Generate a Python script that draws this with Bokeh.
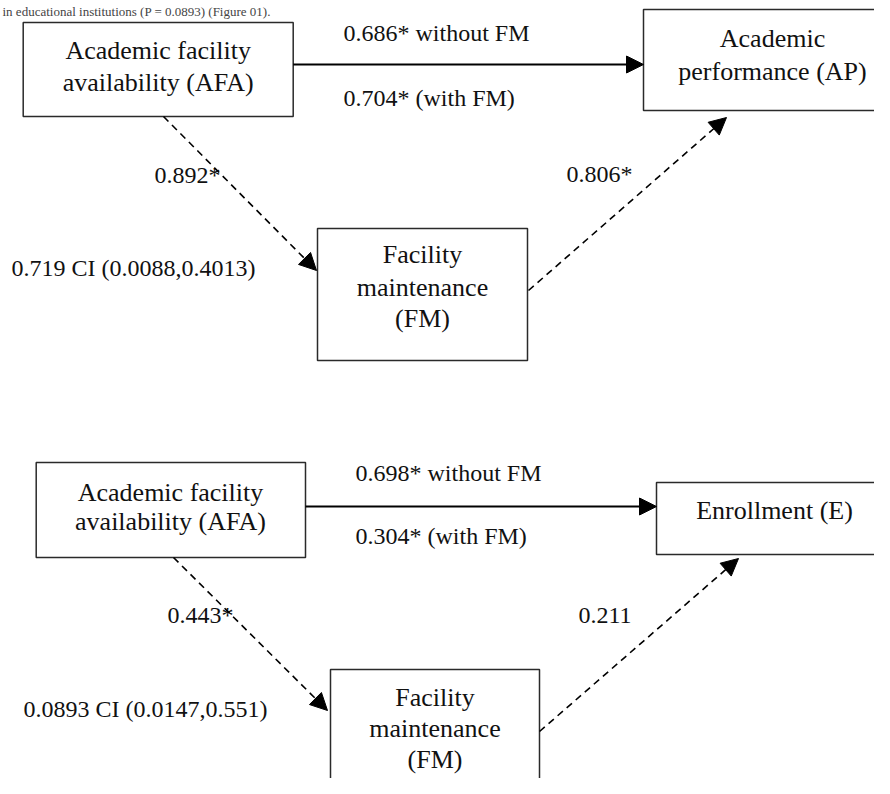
from bokeh.plotting import figure
from bokeh.models import Range1d, ColumnDataSource, Arrow, NormalHead
from bokeh.core.properties import value
from bokeh.embed import file_html
from bokeh.resources import INLINE

# ---- content ----
node_ids = ["AFA1", "AP", "FM1", "AFA2", "E", "FM2"]
node_lines = [
    ["Academic facility", "availability (AFA)"],
    ["Academic", "performance (AP)"],
    ["Facility", "maintenance", "(FM)"],
    ["Academic facility", "availability (AFA)"],
    ["Enrollment (E)"],
    ["Facility", "maintenance", "(FM)"],
]
path_labels = [
    "0.686* without FM", "0.704* (with FM)", "0.892*", "0.806*",
    "0.719 CI (0.0088,0.4013)",
    "0.698* without FM", "0.304* (with FM)", "0.443*", "0.211",
    "0.0893 CI (0.0147,0.551)",
]
cut_text = ["in educational institutions (P = 0.0893) (Figure 01)."]

# ---- layout (page pixel coordinates) ----
box_left = [22.7, 643, 317, 35.7, 656, 330]
box_right = [292.7, 905, 527, 305, 905, 539]
box_top = [22, 9, 228, 462, 482, 669]
box_bottom = [116, 110, 360, 557, 554, 800]
box_text_x = [157.7, 772, 422, 170, 774, 434.5]
box_text_y = [[50, 82], [38, 71], [254, 287, 318], [492, 521], [510], [697, 728, 759]]

label_x = [343, 343, 154, 566, 11, 355, 355, 167, 578, 23]
label_y = [32, 97, 174, 173, 267, 472, 535, 614, 615, 708]

solid_x0 = [292.7, 305]
solid_y0 = [64, 506]
solid_x1 = [643, 656]
solid_y1 = [64, 506]

dash_x0 = [163, 528, 173, 539]
dash_y0 = [116, 290, 557, 731]
dash_x1 = [316, 726, 327, 738]
dash_y1 = [270, 117, 710, 558]

FONT = "Liberation Serif"
INK = "#111111"

p = figure(width=874, height=778, output_backend="svg", toolbar_location=None,
           x_range=Range1d(0, 874), y_range=Range1d(778, 0),
           min_border=0, outline_line_color=None)
p.axis.visible = False
p.grid.visible = False
p.background_fill_color = "white"

# running text line at the very top (kept fully visible, small)
p.text(x=[2], y=[11], text=cut_text, text_align="left",
       text_baseline="alphabetic", text_font=value(FONT),
       text_font_size="13px", text_color="#444444")

# boxes
p.quad(left=box_left, right=box_right, top=box_top, bottom=box_bottom,
       fill_color="white", line_color="#2a2a2a", line_width=1.5)

# box texts
tx, ty, tt = [], [], []
for i, lines in enumerate(node_lines):
    for j, line in enumerate(lines):
        tx.append(box_text_x[i])
        ty.append(box_text_y[i][j])
        tt.append(line)
p.text(x=tx, y=ty, text=tt, text_align="center", text_baseline="middle",
       text_font=value(FONT), text_font_size="26px", text_color=INK)

# path labels
p.text(x=label_x, y=label_y, text=path_labels, text_align="left",
       text_baseline="middle", text_font=value(FONT), text_font_size="24px",
       text_color=INK)

# solid arrows
solid_src = ColumnDataSource(dict(x0=solid_x0, y0=solid_y0, x1=solid_x1, y1=solid_y1))
p.add_layout(Arrow(end=NormalHead(size=17, fill_color="black", line_color="black"),
                   x_start="x0", y_start="y0", x_end="x1", y_end="y1",
                   source=solid_src, line_color="black", line_width=2.2))

# dashed arrows
dash_src = ColumnDataSource(dict(x0=dash_x0, y0=dash_y0, x1=dash_x1, y1=dash_y1))
p.add_layout(Arrow(end=NormalHead(size=17, fill_color="black", line_color="black"),
                   x_start="x0", y_start="y0", x_end="x1", y_end="y1",
                   source=dash_src, line_color="black", line_width=1.6,
                   line_dash="7 5"))

open("out.html", "w").write(file_html(p, INLINE))
